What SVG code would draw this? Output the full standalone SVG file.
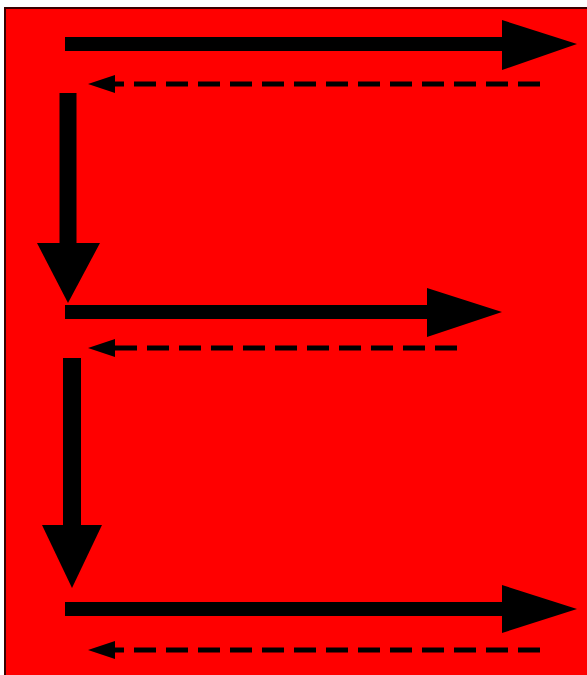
<svg xmlns="http://www.w3.org/2000/svg" width="587" height="675" viewBox="0 0 587 675">
<style>
.bg{fill:#ff0000;stroke:#3a0000;stroke-width:2}
.thick{stroke:#000;fill:none}
.dash{stroke:#000;stroke-width:5;stroke-dasharray:22 10;fill:none}
.head{fill:#000}
</style>
<rect width="587" height="675" fill="#fff"/>
<rect class="bg" x="5" y="8" width="590" height="680"/>
<g id="connectors">
<g id="arrow1"><line class="thick" x1="65" y1="44" x2="503" y2="44" stroke-width="14"/><polygon class="head" points="502,20 577,44 502,70"/></g>
<g id="back1"><line class="dash" x1="540" y1="84" x2="110" y2="84"/><polygon class="head" points="88,84 115,75 115,93"/></g>
<g id="down1"><line class="thick" x1="68" y1="93" x2="68" y2="245" stroke-width="17"/><polygon class="head" points="37,243 100,243 68,303"/></g>
<g id="arrow2"><line class="thick" x1="65" y1="312" x2="428" y2="312" stroke-width="14"/><polygon class="head" points="427,288 502,312 427,337"/></g>
<g id="back2"><line class="dash" x1="457" y1="348" x2="110" y2="348"/><polygon class="head" points="88,348 115,339 115,357"/></g>
<g id="down2"><line class="thick" x1="72" y1="358" x2="72" y2="527" stroke-width="18"/><polygon class="head" points="42,525 102,525 72,588"/></g>
<g id="arrow3"><line class="thick" x1="65" y1="609" x2="503" y2="609" stroke-width="14"/><polygon class="head" points="502,585 577,609 502,633"/></g>
<g id="back3"><line class="dash" x1="540" y1="650" x2="110" y2="650"/><polygon class="head" points="88,650 115,641 115,659"/></g>
</g>
</svg>
